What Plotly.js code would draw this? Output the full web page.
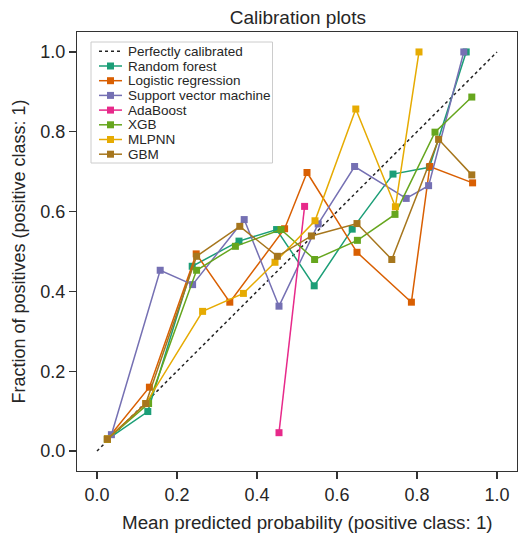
<!DOCTYPE html>
<html><head><meta charset="utf-8">
<script src="https://cdn.plot.ly/plotly-3.0.1.min.js"></script>
<style>body{margin:0;padding:0;background:#fff}#plot{width:518px;height:534px}</style>
</head><body><div id="plot"></div>
<script>
const diagX = [0, 1];
const diagY = [0, 1];

const rfX  = [0.026,0.127,0.238,0.355,0.449,0.543,0.638,0.740,0.831,0.923];
const rfY  = [0.029,0.099,0.463,0.526,0.555,0.414,0.556,0.694,0.711,1.0];
const lrX  = [0.026,0.131,0.248,0.332,0.469,0.525,0.650,0.786,0.832,0.939];
const lrY  = [0.030,0.160,0.494,0.373,0.557,0.698,0.498,0.373,0.713,0.672];
const svmX = [0.036,0.158,0.239,0.368,0.455,0.553,0.644,0.773,0.829,0.917];
const svmY = [0.041,0.453,0.417,0.580,0.363,0.569,0.713,0.633,0.665,1.0];
const adaX = [0.455,0.519];
const adaY = [0.046,0.613];
const xgbX = [0.026,0.129,0.249,0.346,0.460,0.544,0.651,0.745,0.845,0.937];
const xgbY = [0.030,0.119,0.453,0.513,0.555,0.480,0.528,0.593,0.799,0.887];
const mlpX = [0.026,0.122,0.264,0.366,0.445,0.545,0.647,0.746,0.805];
const mlpY = [0.030,0.119,0.350,0.395,0.473,0.577,0.857,0.612,1.0];
const gbmX = [0.026,0.122,0.249,0.357,0.451,0.536,0.650,0.737,0.854,0.937];
const gbmY = [0.030,0.119,0.488,0.563,0.488,0.539,0.570,0.480,0.781,0.692];

const names = ["Random forest","Logistic regression","Support vector machine","AdaBoost","XGB","MLPNN","GBM"];
const colors = ["#1b9e77","#d95f02","#7570b3","#e7298a","#66a61e","#e6ab02","#a6761d"];
const xs = [rfX, lrX, svmX, adaX, xgbX, mlpX, gbmX];
const ys = [rfY, lrY, svmY, adaY, xgbY, mlpY, gbmY];
const tickVals = [0,0.2,0.4,0.6,0.8,1.0];
const tickText = ["0.0","0.2","0.4","0.6","0.8","1.0"];

const traces = [{
  x: diagX, y: diagY, mode: "lines", name: "Perfectly calibrated",
  line: {color: "#222", width: 1.5, dash: "dot"}
}];
for (let i = 0; i < names.length; i++) {
  traces.push({
    x: xs[i], y: ys[i], mode: "lines+markers", name: names[i],
    line: {color: colors[i], width: 1.5},
    marker: {symbol: "square", size: 7, color: colors[i]}
  });
}

// plot-area geometry (pixels) for the hand-drawn legend
const W = 518, H = 534, ML = 77, MR = 1, MT = 32, MB = 63;
const PW = W - ML - MR, PH = H - MT - MB;
const px = X => (X - ML) / PW;
const py = Y => (H - MB - Y) / PH;

const font = "Liberation Sans, Arial, Helvetica, sans-serif";
const shapes = [];
const annotations = [];
// legend frame
shapes.push({type: "rect", xref: "paper", yref: "paper", layer: "above",
  x0: px(91), x1: px(272.5), y0: py(42), y1: py(163),
  line: {color: "#cccccc", width: 1}, fillcolor: "#ffffff"});
const legNames = ["Perfectly calibrated"].concat(names);
const legColors = ["#222"].concat(colors);
for (let i = 0; i < legNames.length; i++) {
  const yy = 51.3 + 14.7 * i;
  shapes.push({type: "line", xref: "paper", yref: "paper", layer: "above",
    x0: px(99), x1: px(122), y0: py(yy), y1: py(yy),
    line: {color: legColors[i], width: 1.5, dash: i === 0 ? "dot" : "solid"}});
  if (i > 0) {
    shapes.push({type: "rect", xref: "paper", yref: "paper", layer: "above",
      x0: px(107), x1: px(114), y0: py(yy - 3.5), y1: py(yy + 3.5),
      line: {width: 0}, fillcolor: legColors[i]});
  }
  annotations.push({xref: "paper", yref: "paper", x: px(126), y: py(yy),
    xanchor: "left", yanchor: "middle", showarrow: false, text: legNames[i],
    font: {family: font, size: 13.5, color: "#262626"}});
}
// x-axis title
annotations.push({xref: "paper", yref: "paper", x: px(307), y: py(522),
  xanchor: "center", yanchor: "middle", showarrow: false,
  text: "Mean predicted probability (positive class: 1)",
  font: {family: font, size: 18.8, color: "#262626"}});

const axisCommon = {
  range: [-0.05, 1.05], tickvals: tickVals, ticktext: tickText,
  ticks: "outside", ticklen: 7, tickwidth: 1.2, tickcolor: "#333",
  showline: true, linecolor: "#333", linewidth: 1.2, mirror: true,
  showgrid: false, zeroline: false,
  tickfont: {family: font, size: 18, color: "#262626"}
};
const layout = {
  width: W, height: H,
  margin: {l: ML, r: MR, t: MT, b: MB},
  paper_bgcolor: "#fff", plot_bgcolor: "#fff",
  title: {text: "Calibration plots", font: {family: font, size: 19, color: "#262626"}, x: 0.575, xanchor: "center", y: 0.968, yanchor: "middle"},
  xaxis: Object.assign({}, axisCommon),
  yaxis: Object.assign({}, axisCommon, {title: {text: "Fraction of positives (positive class: 1)", font: {family: font, size: 18, color: "#262626"}, standoff: 9}}),
  showlegend: false,
  shapes: shapes,
  annotations: annotations
};
Plotly.newPlot("plot", traces, layout, {displayModeBar: false, staticPlot: true});
</script></body></html>
